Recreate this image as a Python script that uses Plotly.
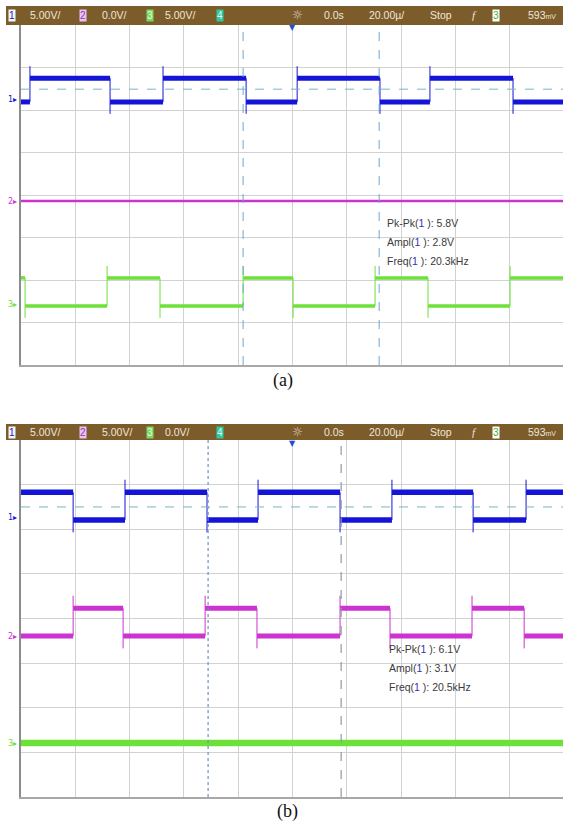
import plotly.graph_objects as go

W, H = 563, 825

# ---------------- data (time in µs, 20 µs/div; levels in screen divisions) ----------------
T_RANGE = [-100.0, 99.6]

# panel (a)
a_blue_edges = [-96.7, -67.2, -47.7, -17.1, 1.7, 32.2, 50.6, 81.2]
a_blue_low, a_blue_high = 2.19, 2.75
a_blue_start_high = False
a_green_edges = [-98.5, -68.3, -48.8, -18.2, 0.2, 30.4, 49.9, 80.1]
a_green_low, a_green_high = -2.61, -1.95
a_green_start_high = True
a_magenta_level = -0.14
a_ref_level = 2.49
a_cursors = [-18.2, 31.9]
a_meas = ["5.8V", "2.8V", "20.3kHz"]
a_header = ["5.00V/", "0.0V/", "5.00V/"]

# panel (b)
b_blue_edges = [-80.8, -61.7, -31.5, -12.7, 17.5, 36.6, 66.5, 86.0]
b_blue_low, b_blue_high = 2.21, 2.83
b_blue_start_high = True
b_mag_edges = [-80.8, -62.4, -32.2, -13.1, 17.5, 35.9, 66.1, 85.3]
b_mag_low, b_mag_high = -0.39, 0.23
b_mag_start_high = False
b_green_level = -2.79
b_ref_level = 2.50
b_cursors = [-31.1, 17.9]
b_meas = ["6.1V", "3.1V", "20.5kHz"]
b_header = ["5.00V/", "5.00V/", "0.0V/"]

spike = 0.28  # overshoot of edges, div

# ---------------- layout geometry (pixels) ----------------
X0_PX = 21
A_TOP, A_BOT = 25, 365
B_TOP, B_BOT = 440, 797

def px(x):
    return x / W

def py(y):
    return 1 - y / H

BLUE = "#1414d8"
MAG = "#cc33d0"
GREEN = "#6ee03a"

fig = go.Figure()


def square(edges, low, high, start_high):
    bounds = [T_RANGE[0]] + list(edges) + [T_RANGE[1]]
    hx, hy, vx, vy = [], [], [], []
    state = start_high
    for i in range(len(bounds) - 1):
        lvl = high if state else low
        hx += [bounds[i], bounds[i + 1], None]
        hy += [lvl, lvl, None]
        if i < len(edges):
            e = edges[i]
            if state:  # falling
                vx += [e, e, None]
                vy += [high, low - spike, None]
            else:  # rising
                vx += [e, e, None]
                vy += [low, high + spike, None]
        state = not state
    return hx, hy, vx, vy


def add_square(edges, low, high, start_high, color, width, xa, ya):
    hx, hy, vx, vy = square(edges, low, high, start_high)
    fig.add_trace(go.Scatter(x=vx, y=vy, mode="lines", line=dict(color=color, width=1),
                             xaxis=xa, yaxis=ya, hoverinfo="skip", showlegend=False))
    fig.add_trace(go.Scatter(x=hx, y=hy, mode="lines", line=dict(color=color, width=width),
                             xaxis=xa, yaxis=ya, hoverinfo="skip", showlegend=False))


def add_flat(level, color, width, xa, ya):
    fig.add_trace(go.Scatter(x=T_RANGE, y=[level, level], mode="lines",
                             line=dict(color=color, width=width),
                             xaxis=xa, yaxis=ya, hoverinfo="skip", showlegend=False))


# panel (a) traces
add_square(a_blue_edges, a_blue_low, a_blue_high, a_blue_start_high, BLUE, 5, "x", "y")
add_flat(a_magenta_level, MAG, 2.5, "x", "y")
add_square(a_green_edges, a_green_low, a_green_high, a_green_start_high, GREEN, 3.5, "x", "y")

# panel (b) traces
add_square(b_blue_edges, b_blue_low, b_blue_high, b_blue_start_high, BLUE, 5.5, "x2", "y2")
add_square(b_mag_edges, b_mag_low, b_mag_high, b_mag_start_high, MAG, 5, "x2", "y2")
add_flat(b_green_level, GREEN, 6.5, "x2", "y2")

axx = dict(range=T_RANGE, tick0=0, dtick=20, showgrid=True, gridcolor="#d2d2d2", gridwidth=1,
           zeroline=False, showticklabels=False, ticks="", showline=True, linecolor="#a8a8a8",
           linewidth=1.5, mirror=False, fixedrange=True)
axy = dict(range=[-4, 4], tick0=0, dtick=1, showgrid=True, gridcolor="#d2d2d2", gridwidth=1,
           zeroline=False, showticklabels=False, ticks="", showline=True, linecolor="#8c8c8c",
           linewidth=2, fixedrange=True)

fig.update_layout(
    width=W, height=H, margin=dict(l=0, r=0, t=0, b=0),
    paper_bgcolor="white", plot_bgcolor="white", showlegend=False,
    xaxis=dict(axx, domain=[px(X0_PX), 1], anchor="y"),
    yaxis=dict(axy, domain=[py(A_BOT), py(A_TOP)], anchor="x"),
    xaxis2=dict(axx, domain=[px(X0_PX), 1], anchor="y2"),
    yaxis2=dict(axy, domain=[py(B_BOT), py(B_TOP)], anchor="x2"),
)

shapes = []
ann = []

# cursors & reference lines
for c in a_cursors:
    shapes.append(dict(type="line", xref="x", yref="y domain", x0=c, x1=c, y0=0, y1=1,
                       line=dict(color="#6aa8d0", width=1, dash="dash")))
shapes.append(dict(type="line", xref="x", yref="y2 domain", x0=b_cursors[0], x1=b_cursors[0],
                   y0=0, y1=1, line=dict(color="#6a90c0", width=1.2, dash="dot")))
shapes.append(dict(type="line", xref="x", yref="y2 domain", x0=b_cursors[1], x1=b_cursors[1],
                   y0=0, y1=1, line=dict(color="#8a9aa8", width=1.2, dash="dash")))
shapes.append(dict(type="line", xref="x domain", yref="y", x0=0, x1=1, y0=a_ref_level, y1=a_ref_level,
                   line=dict(color="#7ab4c4", width=1, dash="dash")))
shapes.append(dict(type="line", xref="x2 domain", yref="y2", x0=0, x1=1, y0=b_ref_level, y1=b_ref_level,
                   line=dict(color="#7ab4c4", width=1, dash="dash")))

# header bars
BAR = "#7d5c2c"
for y0, y1 in [(6, 25), (424, 440)]:
    shapes.append(dict(type="rect", xref="paper", yref="paper", x0=px(6), x1=1, y0=py(y1), y1=py(y0),
                       fillcolor=BAR, line=dict(width=0), layer="above"))


def text(x, y, s, size=11, color="#eee6d6", xanchor="left", family="Liberation Sans", bg=None):
    d = dict(x=px(x), y=py(y), xref="paper", yref="paper", text=s, showarrow=False,
             xanchor=xanchor, yanchor="middle", font=dict(size=size, color=color, family=family))
    if bg:
        d.update(bgcolor=bg, borderpad=0)
    ann.append(d)


def header(yc, labels):
    text(12, yc, "1", 10, "#2020a0", "center", bg="#f4f4ff")
    text(28, yc, labels[0], 10.5)
    text(83, yc, "2", 10, "#a030b0", "center", bg="#e6c6f0")
    text(100, yc, labels[1], 10.5)
    text(150, yc, "3", 10, "#e8ffe0", "center", bg="#78d860")
    text(163, yc, labels[2], 10.5)
    text(220, yc, "4", 10, "#d8fff0", "center", bg="#30c8a0")
    text(297, yc, "☼", 12, "#e0d8c8", "center", family="DejaVu Sans")
    text(322, yc, "0.0s", 10.5)
    text(367, yc, "20.00µ/", 10.5)
    text(428, yc, "Stop", 10.5)
    text(474, yc, "<i>f</i>", 11, "#eee6d6", "center", family="Liberation Serif")
    text(496, yc, "3", 10, "#40b030", "center", bg="#ffffff")
    text(558, yc, "593<span style='font-size:7px'>mV</span>", 10.5, xanchor="right")


header(15, a_header)
header(432, b_header)


def meas(x, y0, vals):
    text(x, y0, "Pk-Pk(<span style='color:#3030b0'>1</span> ): " + vals[0], 10.5, "#3a3a3a")
    text(x, y0 + 19, "Ampl(<span style='color:#3030b0'>1</span> ): " + vals[1], 10.5, "#3a3a3a")
    text(x, y0 + 38, "Freq(<span style='color:#3030b0'>1</span> ): " + vals[2], 10.5, "#3a3a3a")


meas(385, 223, a_meas)
meas(387, 649, b_meas)

# channel markers
def marker(y, s, color):
    text(19, y, s + "▸", 8, color, "right", family="DejaVu Sans")

marker(99, "1", BLUE)
marker(201, "2", MAG)
marker(305, "3", GREEN)
marker(517, "1", BLUE)
marker(636, "2", MAG)
marker(743, "3", GREEN)

# trigger position markers
text(292.5, 28, "▼", 8, "#2050d0", "center", family="DejaVu Sans")
text(292.5, 443, "▼", 8, "#2050d0", "center", family="DejaVu Sans")

# captions
text(283, 380, "(a)", 18, "#111111", "center", family="Liberation Serif")
text(287, 811, "(b)", 18, "#111111", "center", family="Liberation Serif")

fig.update_layout(shapes=shapes, annotations=ann)
fig.write_html("out.html", config={"displayModeBar": False, "staticPlot": True},
               post_script="document.body.style.margin='0';document.body.style.overflow='hidden';")
